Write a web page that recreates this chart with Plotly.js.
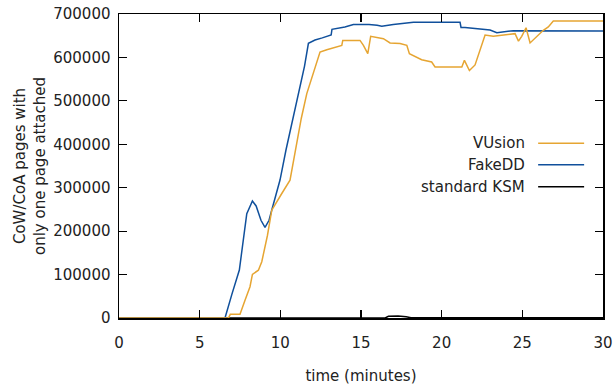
<!DOCTYPE html>
<html>
<head>
<meta charset="utf-8">
<script src="https://cdn.plot.ly/plotly-3.0.1.min.js"></script>
<style>html,body{margin:0;padding:0;background:#fff;}#chart{width:613px;height:386px;}</style>
</head>
<body>
<div id="chart"></div>
<script>
// time (minutes) and values for each series
const fakeddX = [0, 6.57, 7.0, 7.46, 7.92, 8.1, 8.27, 8.5, 8.8, 9.05, 9.3, 9.47, 9.98, 10.35, 10.8, 11.22, 11.5, 11.74, 12.15, 12.6, 13.15, 13.2, 14.0, 14.53, 15.5, 16.0, 16.29, 17.0, 18.25, 21.14, 21.2, 21.45, 22.5, 23.0, 23.42, 24.45, 30];
const fakeddY = [0, 0, 55000, 110500, 240000, 255000, 269400, 258000, 225000, 208800, 225000, 248700, 317700, 386800, 460000, 528900, 580000, 632500, 640000, 645000, 651600, 664800, 670000, 675600, 676000, 674000, 671700, 676000, 681000, 681000, 669000, 668700, 665000, 663200, 657000, 661600, 660800];

const vusionX = [0, 6.78, 6.9, 7.5, 7.8, 8.12, 8.27, 8.64, 8.85, 9.2, 9.47, 9.8, 10.09, 10.6, 10.97, 11.3, 11.64, 12.15, 12.46, 12.88, 13.81, 13.87, 14.94, 15.15, 15.42, 15.6, 16.39, 16.8, 17.42, 17.84, 18.0, 18.76, 19.38, 19.59, 21.25, 21.41, 21.72, 22.07, 22.69, 23.2, 24.0, 24.55, 24.76, 24.96, 25.23, 25.48, 26.3, 26.61, 26.92, 30];
const vusionY = [0, 0, 8500, 8500, 40000, 72000, 100500, 110000, 129500, 190000, 248300, 270000, 286700, 317300, 393900, 460000, 516700, 578000, 612300, 617800, 627700, 639200, 639200, 627700, 608600, 648500, 643200, 633400, 632000, 627700, 608600, 594800, 589500, 578000, 578000, 593300, 569900, 582700, 651700, 649000, 652000, 654700, 637600, 648500, 668200, 633400, 662500, 670100, 683600, 683600];

const ksmX = [0, 16.5, 16.7, 17.3, 17.8, 18.1, 30];
const ksmY = [0, 0, 4000, 4500, 3000, 500, 500];

const seriesNames = ["VUsion", "FakeDD", "standard KSM"];
const seriesColors = ["#E6A532", "#10509C", "#000000"];

const xTicks = [0, 5, 10, 15, 20, 25, 30];
const yTicks = [0, 100000, 200000, 300000, 400000, 500000, 600000, 700000];

const font = "DejaVu Sans, sans-serif";

const traces = [
  {x: ksmX, y: ksmY, name: seriesNames[2], mode: "lines", line: {color: seriesColors[2], width: 1.5}},
  {x: fakeddX, y: fakeddY, name: seriesNames[1], mode: "lines", line: {color: seriesColors[1], width: 1.5}},
  {x: vusionX, y: vusionY, name: seriesNames[0], mode: "lines", line: {color: seriesColors[0], width: 1.5}}
];

// custom gnuplot-style legend (text left of the sample line)
const legY = [0.575, 0.504, 0.432];
const annotations = [];
const shapes = [];
for (let i = 0; i < 3; i++) {
  annotations.push({xref: "paper", yref: "paper", x: 0.843, y: legY[i], xanchor: "right", yanchor: "middle",
    text: seriesNames[i], showarrow: false, font: {family: font, size: 15, color: "#222"}});
  shapes.push({type: "line", xref: "paper", yref: "paper", x0: 0.866, x1: 0.961, y0: legY[i], y1: legY[i],
    line: {color: seriesColors[i], width: 1.5}});
}

const layout = {
  width: 613, height: 386,
  margin: {l: 119, r: 10, t: 14, b: 68},
  paper_bgcolor: "#fff", plot_bgcolor: "#fff",
  showlegend: false,
  font: {family: font, size: 15, color: "#222"},
  xaxis: {
    range: [0, 30], tickvals: xTicks, ticktext: xTicks.map(String),
    ticks: "inside", ticklen: 8, tickwidth: 1.2, tickcolor: "#000",
    showline: true, linecolor: "#000", linewidth: 1.5, mirror: "ticks",
    showgrid: false, zeroline: false, ticklabelstandoff: 10,
    tickfont: {family: font, size: 15, color: "#222"},
    title: {text: "time (minutes)", font: {family: font, size: 15, color: "#222"}, standoff: 20}
  },
  yaxis: {
    range: [0, 700000], tickvals: yTicks, ticktext: yTicks.map(String),
    ticks: "inside", ticklen: 8, tickwidth: 1.2, tickcolor: "#000",
    showline: true, linecolor: "#000", linewidth: 1.5, mirror: "ticks",
    showgrid: false, zeroline: false, ticklabelstandoff: 4,
    tickfont: {family: font, size: 15, color: "#222"},
    title: {text: "CoW/CoA pages with<br>only one page attached", font: {family: font, size: 15, color: "#222"}, standoff: 4}
  },
  annotations: annotations,
  shapes: shapes
};

Plotly.newPlot("chart", traces, layout, {displayModeBar: false, staticPlot: true});
</script>
</body>
</html>
